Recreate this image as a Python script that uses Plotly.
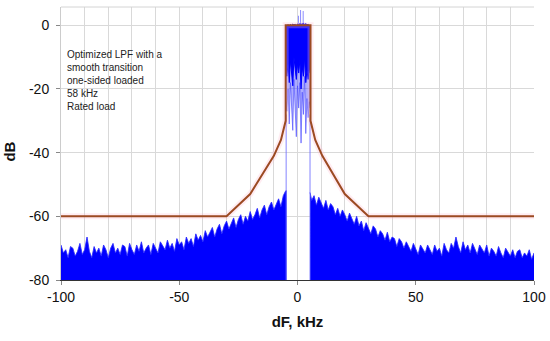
import plotly.graph_objects as go

# ---------------- data ----------------
# Limit mask (dB vs kHz)
mask_x = [-100, -30, -20, -10, -7, -5, -5, 5.5, 5.5, 7.5, 10.5, 20, 30, 100]
mask_y = [-60, -60, -53, -41, -36, -30, 0, 0, -30, -36, -41, -53, -60, -60]

# Left-side noise envelope (1 kHz steps from -100 to -5)
left_x = list(range(-100, -4))
left_top = [
    -69, -71.5, -70.5, -73, -69.5, -70, -72.5, -71, -68.5, -72,
    -70.5, -66.5, -71, -73, -69.5, -71.5, -70, -72.5, -69, -70.5,
    -73, -70, -68.5, -71.5, -70, -72, -69, -69.5, -72.5, -68.5,
    -70.5, -72, -69, -71, -68, -71.5, -70, -69, -72, -68.5,
    -70, -71.5, -68, -69.5, -70.5, -67.5, -70, -68.5, -71, -67,
    -69, -68, -70.5, -66.5, -68.5, -67, -69.5, -65.5, -67.5, -66,
    -68, -64.5, -66.5, -65, -63.5, -66.5, -64, -62.5, -65.5, -63,
    -61.5, -64, -62.5, -60.5, -63.5, -61, -59.5, -62.5, -60, -61.5,
    -58.5, -61, -59.5, -57.5, -60.5, -58, -56.5, -59.5, -57, -55.5,
    -58, -56, -54.5, -57, -53.5, -52,
]

# Right-side noise envelope (edge at 5.3, then 1 kHz steps from 6 to 100)
right_x = [5.3] + list(range(6, 101))
right_top = [
    -52.5,
    -55, -53.5, -56.5, -54, -55.5, -57.5, -55, -58, -56, -57,
    -59.5, -57.5, -60, -58, -59.5, -61.5, -59, -60.5, -62.5, -60,
    -63, -61.5, -64.5, -62, -63.5, -65.5, -63, -64, -66.5, -64.5,
    -65.5, -67.5, -65, -68, -66.5, -67, -69.5, -67, -68, -70,
    -68, -69.5, -71, -68.5, -70, -72, -69, -70.5, -71.5, -69,
    -70.5, -72, -69, -71, -70, -72.5, -68.5, -70.5, -71.5, -68.5,
    -70, -66.5, -69.5, -71.5, -68, -70.5, -69, -71.5, -68.5, -70,
    -72, -69, -70.5, -71.5, -69, -72.5, -70, -71, -72.5, -69.5,
    -71.5, -73, -70, -71.5, -72.5, -70.5, -73, -71, -70.5, -73,
    -71.5, -72.5, -70.5, -73.5, -71.5,
]

# Passband (carrier) block
center_x = [-4.9, -4.5, -4, -3.5, -3, -2.5, -2, -1.5, -1, -0.5, 0,
            0.5, 1, 1.5, 2, 2.5, 3, 3.5, 4, 4.5, 5, 5.4]
center_top = [-0.3, -0.5, 0.2, -0.3, 0.3, -0.2, 0.4, 0.1, 0.3, -0.3, 0.4,
              0.2, 0.5, 0.3, 0.4, 0.6, 0.3, 0.5, 0.2, 0.3, -0.2, -0.3]
center_solid_low = [-14, -16, -12, -18, -11, -14, -19, -10, -13, -17, -12,
                    -15, -11, -20, -13, -16, -10, -18, -14, -17, -13, -15]
center_streak_low = [-24, -27, -20, -31, -18, -25, -33, -17, -22, -35, -19,
                     -26, -18, -37, -21, -28, -16, -34, -23, -29, -24, -26]

# Carrier spikes above the passband
spike_x = [0.4, 1.3, 2.4]
spike_top = [3.0, 4.8, 4.5]

# Carrier edge lines
edge_x = [-4.8, 5.3]
edge_low = -80
edge_high = -28

x_ticks = [-100, -50, 0, 50, 100]
x_ticktext = ["-100", "-50", "0", "50", "100"]
y_ticks = [-80, -60, -40, -20, 0]
y_ticktext = ["-80", "-60", "-40", "-20", "0"]

note_lines = ["Optimized LPF with a", "smooth transition",
              "one-sided loaded", "58 kHz", "Rated load"]

BLUE = "#0000FF"

fig = go.Figure()

# Left noise (baseline then fill to it)
fig.add_trace(go.Scatter(x=[left_x[0], left_x[-1] + 0.4], y=[-80, -80],
                         mode="lines", line=dict(width=0), hoverinfo="skip",
                         showlegend=False))
fig.add_trace(go.Scatter(x=left_x + [left_x[-1] + 0.4], y=left_top + [left_top[-1]],
                         mode="lines", line=dict(color="rgba(40,40,255,0.85)", width=1),
                         fill="tonexty", fillcolor=BLUE, showlegend=False))
# Right noise
fig.add_trace(go.Scatter(x=[right_x[0], right_x[-1]], y=[-80, -80],
                         mode="lines", line=dict(width=0), hoverinfo="skip",
                         showlegend=False))
fig.add_trace(go.Scatter(x=right_x, y=right_top,
                         mode="lines", line=dict(color="rgba(40,40,255,0.85)", width=1),
                         fill="tonexty", fillcolor=BLUE, showlegend=False))

# Carrier edge lines
for ex in edge_x:
    fig.add_trace(go.Scatter(x=[ex, ex], y=[edge_low, edge_high], mode="lines",
                             line=dict(color="rgba(110,110,255,0.85)", width=1),
                             showlegend=False))

# Carrier spikes
for sx, st in zip(spike_x, spike_top):
    fig.add_trace(go.Scatter(x=[sx, sx], y=[0, st], mode="lines",
                             line=dict(color="rgba(110,110,255,0.8)", width=1),
                             showlegend=False))

# Carrier streaks (lighter) then solid block
fig.add_trace(go.Scatter(x=center_x + center_x[::-1],
                         y=center_top + center_streak_low[::-1],
                         mode="lines", line=dict(color="rgba(70,70,255,0.6)", width=1),
                         fill="toself", fillcolor="rgba(70,70,255,0.45)",
                         showlegend=False))
fig.add_trace(go.Scatter(x=center_x + center_x[::-1],
                         y=center_top + center_solid_low[::-1],
                         mode="lines", line=dict(color=BLUE, width=1),
                         fill="toself", fillcolor=BLUE, showlegend=False))

# Mask shadow and mask
fig.add_trace(go.Scatter(x=mask_x, y=mask_y, mode="lines",
                         line=dict(color="rgba(255,185,210,0.28)", width=6),
                         showlegend=False))
fig.add_trace(go.Scatter(x=mask_x, y=mask_y, mode="lines",
                         line=dict(color="#9C4A22", width=2),
                         showlegend=False))

fig.add_annotation(text="<br>".join(note_lines), xref="paper", yref="paper",
                   x=0.008, y=0.855, xanchor="left", yanchor="top", align="left",
                   showarrow=False,
                   font=dict(family="Liberation Sans, Arial", size=10, color="#222"))

fig.add_annotation(text="<b>dB</b>", xref="paper", yref="paper",
                   x=-0.108, y=0.47, xanchor="center", yanchor="middle",
                   textangle=-90, showarrow=False,
                   font=dict(family="Liberation Sans, Arial", size=15, color="#111"))

fig.add_shape(type="line", xref="paper", yref="paper", x0=0, x1=1, y0=1, y1=1,
              line=dict(color="#d4d4d4", width=1))

fig.update_layout(
    width=550, height=341,
    margin=dict(l=61, r=16, t=7, b=61, autoexpand=False),
    paper_bgcolor="white", plot_bgcolor="white",
    font=dict(family="Liberation Sans, Arial", size=14, color="#111"),
    xaxis=dict(range=[-100, 100], tickvals=x_ticks, ticktext=x_ticktext,
               showgrid=True, automargin=False,
               gridcolor="#d9d9d9", gridwidth=1, zeroline=False,
               minor=dict(dtick=10, showgrid=True, gridcolor="#d9d9d9", gridwidth=1),
               ticks="outside", ticklen=4, tickcolor="#888",
               showline=True, linecolor="#333", linewidth=1,
               title=dict(text="<b>dF, kHz</b>", font=dict(size=15), standoff=12)),
    yaxis=dict(range=[-80, 5.75], tickvals=y_ticks, ticktext=y_ticktext,
               showgrid=True, automargin=False,
               gridcolor="#d9d9d9", gridwidth=1, zeroline=False,
               ticks="outside", ticklen=4, tickcolor="#888",
               showline=True, linecolor="#cccccc", linewidth=1,
               ticklabelstandoff=4),
)

fig.write_html("out.html", config={"displayModeBar": False},
               post_script="document.body.style.margin='0';document.body.style.padding='0';")
